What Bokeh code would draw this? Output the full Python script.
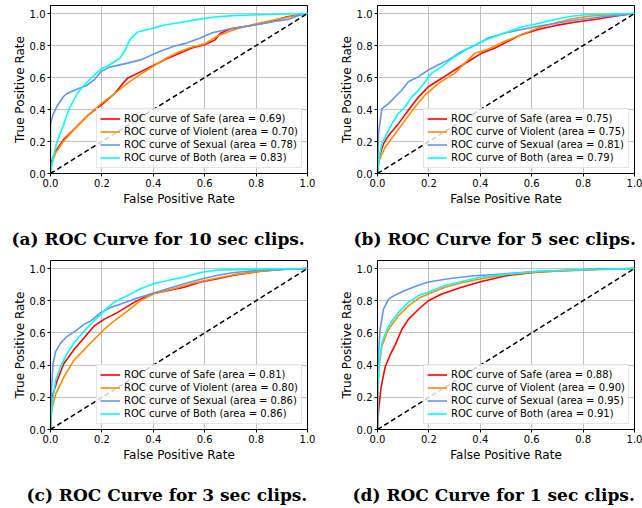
from bokeh.plotting import figure
from bokeh.models import Legend, LegendItem, Title, FixedTicker, PrintfTickFormatter, Range1d
from bokeh.layouts import gridplot
from bokeh.embed import file_html
from bokeh.resources import INLINE

CLASSES = ["Safe", "Violent", "Sexual", "Both"]
COLORS = ["red", "darkorange", "cornflowerblue", "aqua"]
TICKS = [0.0, 0.2, 0.4, 0.6, 0.8, 1.0]

CAPTIONS = [
    "(a) ROC Curve for 10 sec clips.",
    "(b) ROC Curve for 5 sec clips.",
    "(c) ROC Curve for 3 sec clips.",
    "(d) ROC Curve for 1 sec clips.",
]

# ---------- 10 sec clips ----------
AUC_10 = [0.69, 0.70, 0.78, 0.83]
FPR_10_SAFE = [0, 0.003, 0.02, 0.05, 0.1, 0.15, 0.2, 0.25, 0.28, 0.3, 0.35, 0.4, 0.45, 0.5, 0.55, 0.6, 0.64, 0.66, 0.7, 0.78, 0.85, 0.92, 1.0]
TPR_10_SAFE = [0, 0.07, 0.14, 0.21, 0.29, 0.37, 0.43, 0.50, 0.56, 0.595, 0.635, 0.675, 0.715, 0.75, 0.785, 0.805, 0.835, 0.875, 0.905, 0.925, 0.945, 0.98, 1.0]
FPR_10_VIOLENT = [0, 0.003, 0.02, 0.05, 0.1, 0.15, 0.2, 0.25, 0.3, 0.35, 0.4, 0.45, 0.5, 0.55, 0.6, 0.62, 0.65, 0.7, 0.75, 0.8, 0.9, 1.0]
TPR_10_VIOLENT = [0, 0.05, 0.13, 0.2, 0.29, 0.37, 0.44, 0.5, 0.565, 0.62, 0.67, 0.72, 0.76, 0.79, 0.81, 0.83, 0.86, 0.89, 0.915, 0.935, 0.97, 1.0]
FPR_10_SEXUAL = [0, 0, 0.01, 0.025, 0.05, 0.065, 0.1, 0.14, 0.17, 0.195, 0.23, 0.3, 0.35, 0.42, 0.48, 0.53, 0.58, 0.63, 0.7, 0.8, 0.87, 0.93, 0.97, 1.0]
TPR_10_SEXUAL = [0, 0.31, 0.37, 0.42, 0.48, 0.50, 0.525, 0.55, 0.585, 0.635, 0.665, 0.69, 0.71, 0.76, 0.795, 0.815, 0.845, 0.88, 0.905, 0.93, 0.95, 0.965, 0.99, 1.0]
FPR_10_BOTH = [0, 0.01, 0.026, 0.05, 0.071, 0.104, 0.13, 0.16, 0.195, 0.23, 0.27, 0.29, 0.31, 0.34, 0.4, 0.45, 0.53, 0.58, 0.64, 0.71, 0.84, 1.0]
TPR_10_BOTH = [0, 0.1, 0.2, 0.3, 0.4, 0.5, 0.55, 0.6, 0.65, 0.68, 0.72, 0.77, 0.84, 0.885, 0.91, 0.93, 0.95, 0.965, 0.978, 0.987, 0.994, 1.0]

# ---------- 5 sec clips ----------
AUC_5 = [0.75, 0.75, 0.81, 0.79]
FPR_5_SAFE = [0, 0.006, 0.023, 0.043, 0.081, 0.12, 0.16, 0.198, 0.25, 0.30, 0.353, 0.405, 0.457, 0.508, 0.56, 0.625, 0.69, 0.767, 0.845, 0.922, 1.0]
TPR_5_SAFE = [0, 0.10, 0.185, 0.237, 0.31, 0.395, 0.479, 0.542, 0.595, 0.647, 0.70, 0.752, 0.784, 0.826, 0.868, 0.90, 0.924, 0.945, 0.962, 0.983, 1.0]
FPR_5_VIOLENT = [0, 0.006, 0.03, 0.069, 0.107, 0.146, 0.185, 0.237, 0.30, 0.379, 0.43, 0.495, 0.56, 0.625, 0.69, 0.754, 0.82, 0.922, 1.0]
TPR_5_VIOLENT = [0, 0.08, 0.164, 0.248, 0.332, 0.416, 0.49, 0.563, 0.626, 0.752, 0.777, 0.826, 0.868, 0.91, 0.941, 0.966, 0.983, 0.994, 1.0]
FPR_5_SEXUAL = [0, 0.004, 0.017, 0.043, 0.069, 0.094, 0.12, 0.16, 0.198, 0.237, 0.276, 0.327, 0.379, 0.43, 0.495, 0.56, 0.625, 0.69, 0.767, 0.845, 0.922, 1.0]
TPR_5_SEXUAL = [0, 0.25, 0.405, 0.437, 0.48, 0.52, 0.574, 0.605, 0.647, 0.68, 0.71, 0.763, 0.80, 0.847, 0.878, 0.90, 0.92, 0.937, 0.958, 0.973, 0.987, 1.0]
FPR_5_BOTH = [0, 0.006, 0.017, 0.036, 0.056, 0.081, 0.107, 0.133, 0.16, 0.185, 0.21, 0.25, 0.30, 0.366, 0.43, 0.495, 0.56, 0.625, 0.69, 0.754, 0.82, 1.0]
TPR_5_BOTH = [0, 0.10, 0.185, 0.248, 0.31, 0.374, 0.416, 0.479, 0.52, 0.574, 0.626, 0.668, 0.73, 0.794, 0.84, 0.878, 0.916, 0.937, 0.962, 0.983, 0.994, 1.0]

# ---------- 3 sec clips ----------
AUC_3 = [0.81, 0.80, 0.86, 0.86]
FPR_3_SAFE = [0, 0.006, 0.026, 0.052, 0.091, 0.13, 0.169, 0.208, 0.26, 0.325, 0.39, 0.455, 0.52, 0.584, 0.65, 0.714, 0.818, 0.91, 1.0]
TPR_3_SAFE = [0, 0.2, 0.305, 0.41, 0.495, 0.568, 0.642, 0.684, 0.726, 0.79, 0.842, 0.863, 0.884, 0.916, 0.937, 0.958, 0.983, 0.996, 1.0]
FPR_3_VIOLENT = [0, 0.004, 0.02, 0.052, 0.091, 0.13, 0.169, 0.208, 0.247, 0.30, 0.35, 0.40, 0.48, 0.558, 0.636, 0.714, 0.818, 0.91, 1.0]
TPR_3_VIOLENT = [0, 0.116, 0.22, 0.326, 0.43, 0.495, 0.558, 0.62, 0.674, 0.737, 0.80, 0.842, 0.874, 0.91, 0.937, 0.962, 0.983, 0.996, 1.0]
FPR_3_SEXUAL = [0, 0.003, 0.01, 0.02, 0.039, 0.065, 0.104, 0.13, 0.156, 0.195, 0.234, 0.273, 0.325, 0.39, 0.455, 0.52, 0.584, 0.65, 0.714, 0.818, 1.0]
TPR_3_SEXUAL = [0, 0.22, 0.41, 0.484, 0.537, 0.579, 0.62, 0.653, 0.674, 0.726, 0.758, 0.779, 0.81, 0.842, 0.874, 0.905, 0.933, 0.958, 0.975, 0.99, 1.0]
FPR_3_BOTH = [0, 0.006, 0.02, 0.039, 0.065, 0.091, 0.13, 0.169, 0.208, 0.247, 0.30, 0.35, 0.40, 0.455, 0.52, 0.584, 0.65, 0.78, 1.0]
TPR_3_BOTH = [0, 0.158, 0.305, 0.39, 0.474, 0.537, 0.61, 0.674, 0.737, 0.79, 0.832, 0.874, 0.905, 0.926, 0.947, 0.975, 0.99, 0.996, 1.0]

# ---------- 1 sec clips ----------
AUC_1 = [0.88, 0.90, 0.95, 0.91]
FPR_1_SAFE = [0, 0.004, 0.014, 0.03, 0.049, 0.069, 0.094, 0.12, 0.16, 0.198, 0.25, 0.327, 0.405, 0.495, 0.625, 0.82, 1.0]
TPR_1_SAFE = [0, 0.116, 0.263, 0.39, 0.463, 0.526, 0.62, 0.684, 0.747, 0.80, 0.842, 0.884, 0.92, 0.954, 0.979, 0.994, 1.0]
FPR_1_VIOLENT = [0, 0.001, 0.006, 0.017, 0.036, 0.056, 0.081, 0.12, 0.16, 0.198, 0.263, 0.327, 0.405, 0.495, 0.625, 0.82, 1.0]
TPR_1_VIOLENT = [0, 0.2, 0.39, 0.516, 0.6, 0.653, 0.705, 0.768, 0.815, 0.842, 0.884, 0.912, 0.937, 0.962, 0.979, 0.992, 1.0]
FPR_1_SEXUAL = [0, 0.001, 0.004, 0.01, 0.023, 0.043, 0.069, 0.107, 0.146, 0.198, 0.276, 0.366, 0.495, 0.625, 0.82, 1.0]
TPR_1_SEXUAL = [0, 0.263, 0.474, 0.62, 0.747, 0.81, 0.836, 0.863, 0.888, 0.916, 0.937, 0.954, 0.968, 0.983, 0.994, 1.0]
FPR_1_BOTH = [0, 0.001, 0.006, 0.017, 0.036, 0.056, 0.081, 0.12, 0.16, 0.198, 0.263, 0.327, 0.405, 0.495, 0.625, 0.82, 1.0]
TPR_1_BOTH = [0, 0.221, 0.41, 0.537, 0.62, 0.674, 0.726, 0.79, 0.832, 0.853, 0.895, 0.92, 0.947, 0.964, 0.983, 0.994, 1.0]

PANELS = [
    ([(FPR_10_SAFE, TPR_10_SAFE), (FPR_10_VIOLENT, TPR_10_VIOLENT), (FPR_10_SEXUAL, TPR_10_SEXUAL), (FPR_10_BOTH, TPR_10_BOTH)], AUC_10),
    ([(FPR_5_SAFE, TPR_5_SAFE), (FPR_5_VIOLENT, TPR_5_VIOLENT), (FPR_5_SEXUAL, TPR_5_SEXUAL), (FPR_5_BOTH, TPR_5_BOTH)], AUC_5),
    ([(FPR_3_SAFE, TPR_3_SAFE), (FPR_3_VIOLENT, TPR_3_VIOLENT), (FPR_3_SEXUAL, TPR_3_SEXUAL), (FPR_3_BOTH, TPR_3_BOTH)], AUC_3),
    ([(FPR_1_SAFE, TPR_1_SAFE), (FPR_1_VIOLENT, TPR_1_VIOLENT), (FPR_1_SEXUAL, TPR_1_SEXUAL), (FPR_1_BOTH, TPR_1_BOTH)], AUC_1),
]

# layout: (min_border_left, min_border_right, min_border_top, min_border_bottom, caption offset)
LAYOUT = [
    (50, 14, 5, 81, -39),
    (56, 8, 5, 81, -24),
    (50, 14, 6, 79, -24),
    (56, 8, 6, 79, -25),
]

SANS = "DejaVu Sans"


def make_panel(curves, aucs, caption, lay):
    left, right, top, bottom, cap_off = lay
    p = figure(width=321, height=254, x_range=Range1d(0, 1), y_range=Range1d(0, 1.05),
               output_backend="svg", toolbar_location=None,
               min_border_left=left, min_border_right=right,
               min_border_top=top, min_border_bottom=bottom)
    p.background_fill_color = "white"
    p.border_fill_color = "white"
    p.outline_line_color = "black"
    p.outline_line_width = 1
    p.outline_line_alpha = 1

    for ax in (p.xaxis[0], p.yaxis[0]):
        ax.ticker = FixedTicker(ticks=TICKS)
        ax.formatter = PrintfTickFormatter(format="%.1f")
        ax.major_label_text_font = SANS
        ax.major_label_text_font_size = "10px"
        ax.major_label_text_color = "black"
        ax.major_tick_out = 3
        ax.major_tick_in = 0
        ax.minor_tick_out = 0
        ax.minor_tick_in = 0
        ax.major_tick_line_color = "black"
        ax.axis_line_color = "black"
        ax.major_label_standoff = 2
        ax.axis_label_text_font = SANS
        ax.axis_label_text_font_size = "12px"
        ax.axis_label_text_font_style = "normal"
        ax.axis_label_text_color = "black"
    p.xaxis.axis_label = "False Positive Rate"
    p.yaxis.axis_label = "True Positive Rate"
    p.xaxis.axis_label_standoff = 2
    p.yaxis.axis_label_standoff = 0

    p.grid.grid_line_color = "#b0b0b0"
    p.grid.grid_line_width = 0.8

    items = []
    for (fx, ty), color, name, auc in zip(curves, COLORS, CLASSES, aucs):
        r = p.line(fx, ty, line_color=color, line_width=1.6)
        items.append(LegendItem(label=f"ROC curve of {name} (area = {auc:.2f})", renderers=[r]))
    p.line([0, 1], [0, 1], line_color="black", line_width=1.5, line_dash="5 3")

    legend = Legend(items=items, location="bottom_right", margin=5, padding=3,
                    spacing=0, glyph_width=20, glyph_height=13, label_height=13,
                    label_standoff=4,
                    label_text_font=SANS, label_text_font_size="10px",
                    label_text_color="black",
                    border_line_color="#cccccc", border_line_width=1,
                    background_fill_color="white", background_fill_alpha=0.8)
    p.add_layout(legend)

    # spacer between the axis label and the caption
    spacer = Title(text=" ", text_font_size="1px", standoff=13)
    p.add_layout(spacer, "below")
    t = Title(text=caption, align="left", offset=cap_off, text_font="DejaVu Serif",
              text_font_size="17px", text_font_style="bold", text_color="black",
              standoff=4)
    p.add_layout(t, "below")
    return p


figs = [make_panel(c, a, cap, lay) for (c, a), cap, lay in zip(PANELS, CAPTIONS, LAYOUT)]
grid = gridplot([[figs[0], figs[1]], [figs[2], figs[3]]], toolbar_location=None)

open("out.html", "w").write(file_html(grid, INLINE))
